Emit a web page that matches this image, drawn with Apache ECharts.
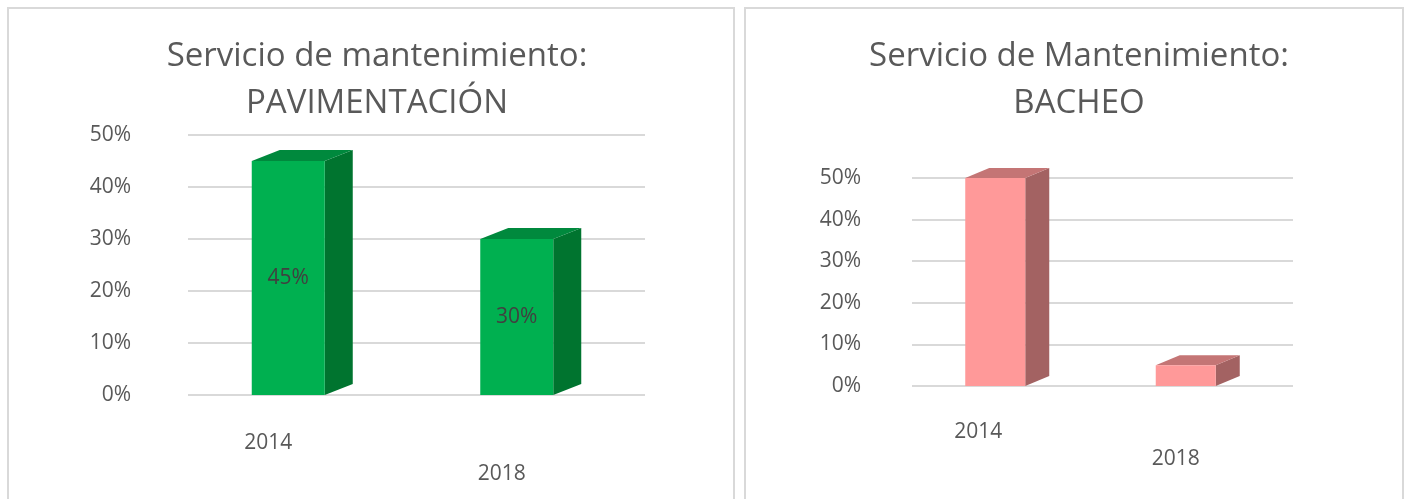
<!DOCTYPE html>
<html>
<head>
<meta charset="utf-8">
<script src="https://cdn.jsdelivr.net/npm/echarts@6/dist/echarts.min.js"></script>
<style>html,body{margin:0;padding:0;background:#fff;}#c{width:1405px;height:499px;}</style>
</head>
<body>
<div id="c"></div>
<script>
// ---- data ----
const categories = ['2014', '2018'];
const pavimentacion = [45, 30];
const bacheo = [50, 5];
const yTicks = [0, 10, 20, 30, 40, 50];
const titleLeft = 'Servicio de mantenimiento:\nPAVIMENTACIÓN';
const titleRight = 'Servicio de Mantenimiento:\nBACHEO';

const FONT = '"Open Sans", sans-serif';
const TXT = '#595959';
const GRID = '#d9d9d9';

function makeRender(colors, bw, dx, dy, showLabel) {
  return function (params, api) {
    const i = api.value(0), v = api.value(1);
    const base = api.coord([i, 0]);
    const topP = api.coord([i, v]);
    const x0 = base[0] - (bw + dx) / 2, x1 = x0 + bw;
    const yb = base[1], yt = topP[1];
    const children = [
      { type: 'polygon', shape: { points: [[x1, yt], [x1 + dx, yt + dy], [x1 + dx, yb + dy], [x1, yb]] }, style: { fill: colors.side } },
      { type: 'polygon', shape: { points: [[x0, yt], [x0 + dx, yt + dy], [x1 + dx, yt + dy], [x1, yt]] }, style: { fill: colors.top } },
      { type: 'rect', shape: { x: x0, y: yt, width: bw, height: yb - yt }, style: { fill: colors.front } }
    ];
    if (showLabel) {
      children.push({ type: 'text', x: (x0 + x1) / 2, y: (yt + yb) / 2,
        style: { text: v + '%', fill: '#404040', font: '21px ' + FONT, align: 'center', verticalAlign: 'middle' } });
    }
    return { type: 'group', children: children };
  };
}

function xLabelRich(shifts) {
  const rich = {};
  shifts.forEach((s, k) => {
    rich['c' + k] = { fontFamily: FONT, fontSize: 21, color: TXT, padding: [s.down, s.left > 0 ? s.left * 2 : 0, 0, 0] };
  });
  return rich;
}

const chart = echarts.init(document.getElementById('c'), null, { renderer: 'canvas' });
chart.setOption({
  animation: false,
  backgroundColor: '#fff',
  graphic: [
    { type: 'rect', z: -10, shape: { x: 8, y: 8, width: 726, height: 520 }, style: { fill: null, stroke: GRID, lineWidth: 2 } },
    { type: 'rect', z: -10, shape: { x: 745, y: 8, width: 658, height: 520 }, style: { fill: null, stroke: GRID, lineWidth: 2 } }
  ],
  title: [
    { text: titleLeft, left: 372, top: 28, textAlign: 'center',
      textStyle: { fontFamily: FONT, fontSize: 33, fontWeight: 'normal', color: TXT, lineHeight: 47 } },
    { text: titleRight, left: 1074, top: 28, textAlign: 'center',
      textStyle: { fontFamily: FONT, fontSize: 33, fontWeight: 'normal', color: TXT, lineHeight: 47 } }
  ],
  grid: [
    { left: 188, top: 135, width: 457, height: 260 },
    { left: 912, top: 178, width: 381, height: 208 }
  ],
  xAxis: [0, 1].map(g => ({
    type: 'category', gridIndex: g, data: categories,
    axisLine: { show: false }, axisTick: { show: false },
    axisLabel: {
      margin: g === 0 ? 38 : 36,
      formatter: (val, idx) => '{c' + idx + '|' + val + '}',
      rich: g === 0 ? xLabelRich([{ down: 0, left: 34 }, { down: 31, left: 29 }])
                    : xLabelRich([{ down: 0, left: 29 }, { down: 27, left: 22 }])
    }
  })),
  yAxis: [0, 1].map(g => ({
    type: 'value', gridIndex: g, min: yTicks[0], max: yTicks[yTicks.length - 1], interval: yTicks[1] - yTicks[0],
    axisLine: { show: false }, axisTick: { show: false },
    axisLabel: { formatter: '{value}%', margin: g === 0 ? 57 : 51, fontFamily: FONT, fontSize: 21, color: TXT },
    splitLine: { lineStyle: { color: GRID, width: 2 } }
  })),
  series: [
    { type: 'custom', xAxisIndex: 0, yAxisIndex: 0, encode: { x: 0, y: 1 },
      data: pavimentacion.map((v, i) => [i, v]),
      renderItem: makeRender({ front: '#00b050', side: '#00742f', top: '#00893d' }, 73, 28, -11, true) },
    { type: 'custom', xAxisIndex: 1, yAxisIndex: 1, encode: { x: 0, y: 1 },
      data: bacheo.map((v, i) => [i, v]),
      renderItem: makeRender({ front: '#ff9999', side: '#a36262', top: '#c47575' }, 60, 24, -10, false) }
  ]
});
</script>
</body>
</html>
